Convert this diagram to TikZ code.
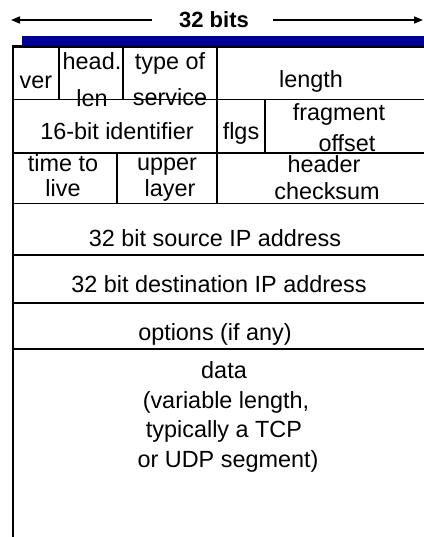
\documentclass[tikz,border=0pt]{standalone}
\usepackage{fontspec}
\setmainfont{Liberation Sans}
\usetikzlibrary{arrows.meta}
\definecolor{barblue}{RGB}{0,0,150}
\tikzset{
  cell/.style={anchor=base, inner sep=0pt, font=\fontsize{23.4}{28}\selectfont},
  rule/.style={line width=1.6pt},
  edge/.style={line width=2.4pt},
  span/.style={line width=1.6pt, -{Triangle[length=9pt,width=7pt]}}
}
\begin{document}
\begin{tikzpicture}[x=1pt,y=-1pt]
\useasboundingbox (0,0) rectangle (423,537);

% width arrow and its label
\node[anchor=base, inner sep=0pt, font=\bfseries\fontsize{22}{26}\selectfont] (title) at (214,28) {32 bits};
\coordinate (lend) at (11,20);
\coordinate (rend) at (423,20);
\coordinate (lstart) at (152,20);
\coordinate (rstart) at (273,20);
\draw[span] (lstart) -- (lend);
\draw[span] (rstart) -- (rend);

% blue bar over the header
\fill[barblue] (22,36.5) rectangle (425,45);

% row 1
\node[cell] (ver) at (36,89) {ver};
\node[cell] (hd1) at (92,70) {head.};
\node[cell] (hd2) at (92,107) {len};
\node[cell] (tos1) at (170,70) {type of};
\node[cell] (tos2) at (170,106) {service};
\node[cell] (len) at (311,88) {length};
% row 2
\node[cell] (ident) at (117,139.5) {16-bit identifier};
\node[cell] (flgs) at (241,139.5) {flgs};
\node[cell] (frag1) at (339,121) {fragment};
\node[cell] (frag2) at (347,152) {offset};
% row 3
\node[cell] (ttl1) at (63,171.5) {time to};
\node[cell] (ttl2) at (63,196.5) {live};
\node[cell] (up1) at (167,171) {upper};
\node[cell] (up2) at (170,196.5) {layer};
\node[cell] (ck1) at (324,173) {header};
\node[cell] (ck2) at (327,200) {checksum};
% address rows
\node[cell] (src) at (215,246.5) {32 bit source IP address};
\node[cell] (dst) at (219,292) {32 bit destination IP address};
\node[cell] (opt) at (215,340) {options (if any)};
% data
\node[cell] (d1) at (224,378) {data};
\node[cell] (d2) at (226,408) {(variable length,};
\node[cell] (d3) at (224,437) {typically a TCP};
\node[cell] (d4) at (228,467) {or UDP segment)};

% grid lines, drawn over the text
\draw[edge] (13,46.5) -- (13,540);
\draw[edge] (12,46.5) -- (425,46.5);
\draw[rule] (13,99.5) -- (425,99.5);
\draw[rule] (13,153) -- (425,153);
\foreach \y in {203.5,255,303,349}
  \draw[rule] (13,\y) -- (425,\y);
\foreach \x in {59,123,217}
  \draw[rule] (\x,46.5) -- (\x,99.5);
\foreach \x in {217,265}
  \draw[rule] (\x,99.5) -- (\x,153);
\foreach \x in {117,217}
  \draw[rule] (\x,153) -- (\x,203.5);
\end{tikzpicture}
\end{document}
